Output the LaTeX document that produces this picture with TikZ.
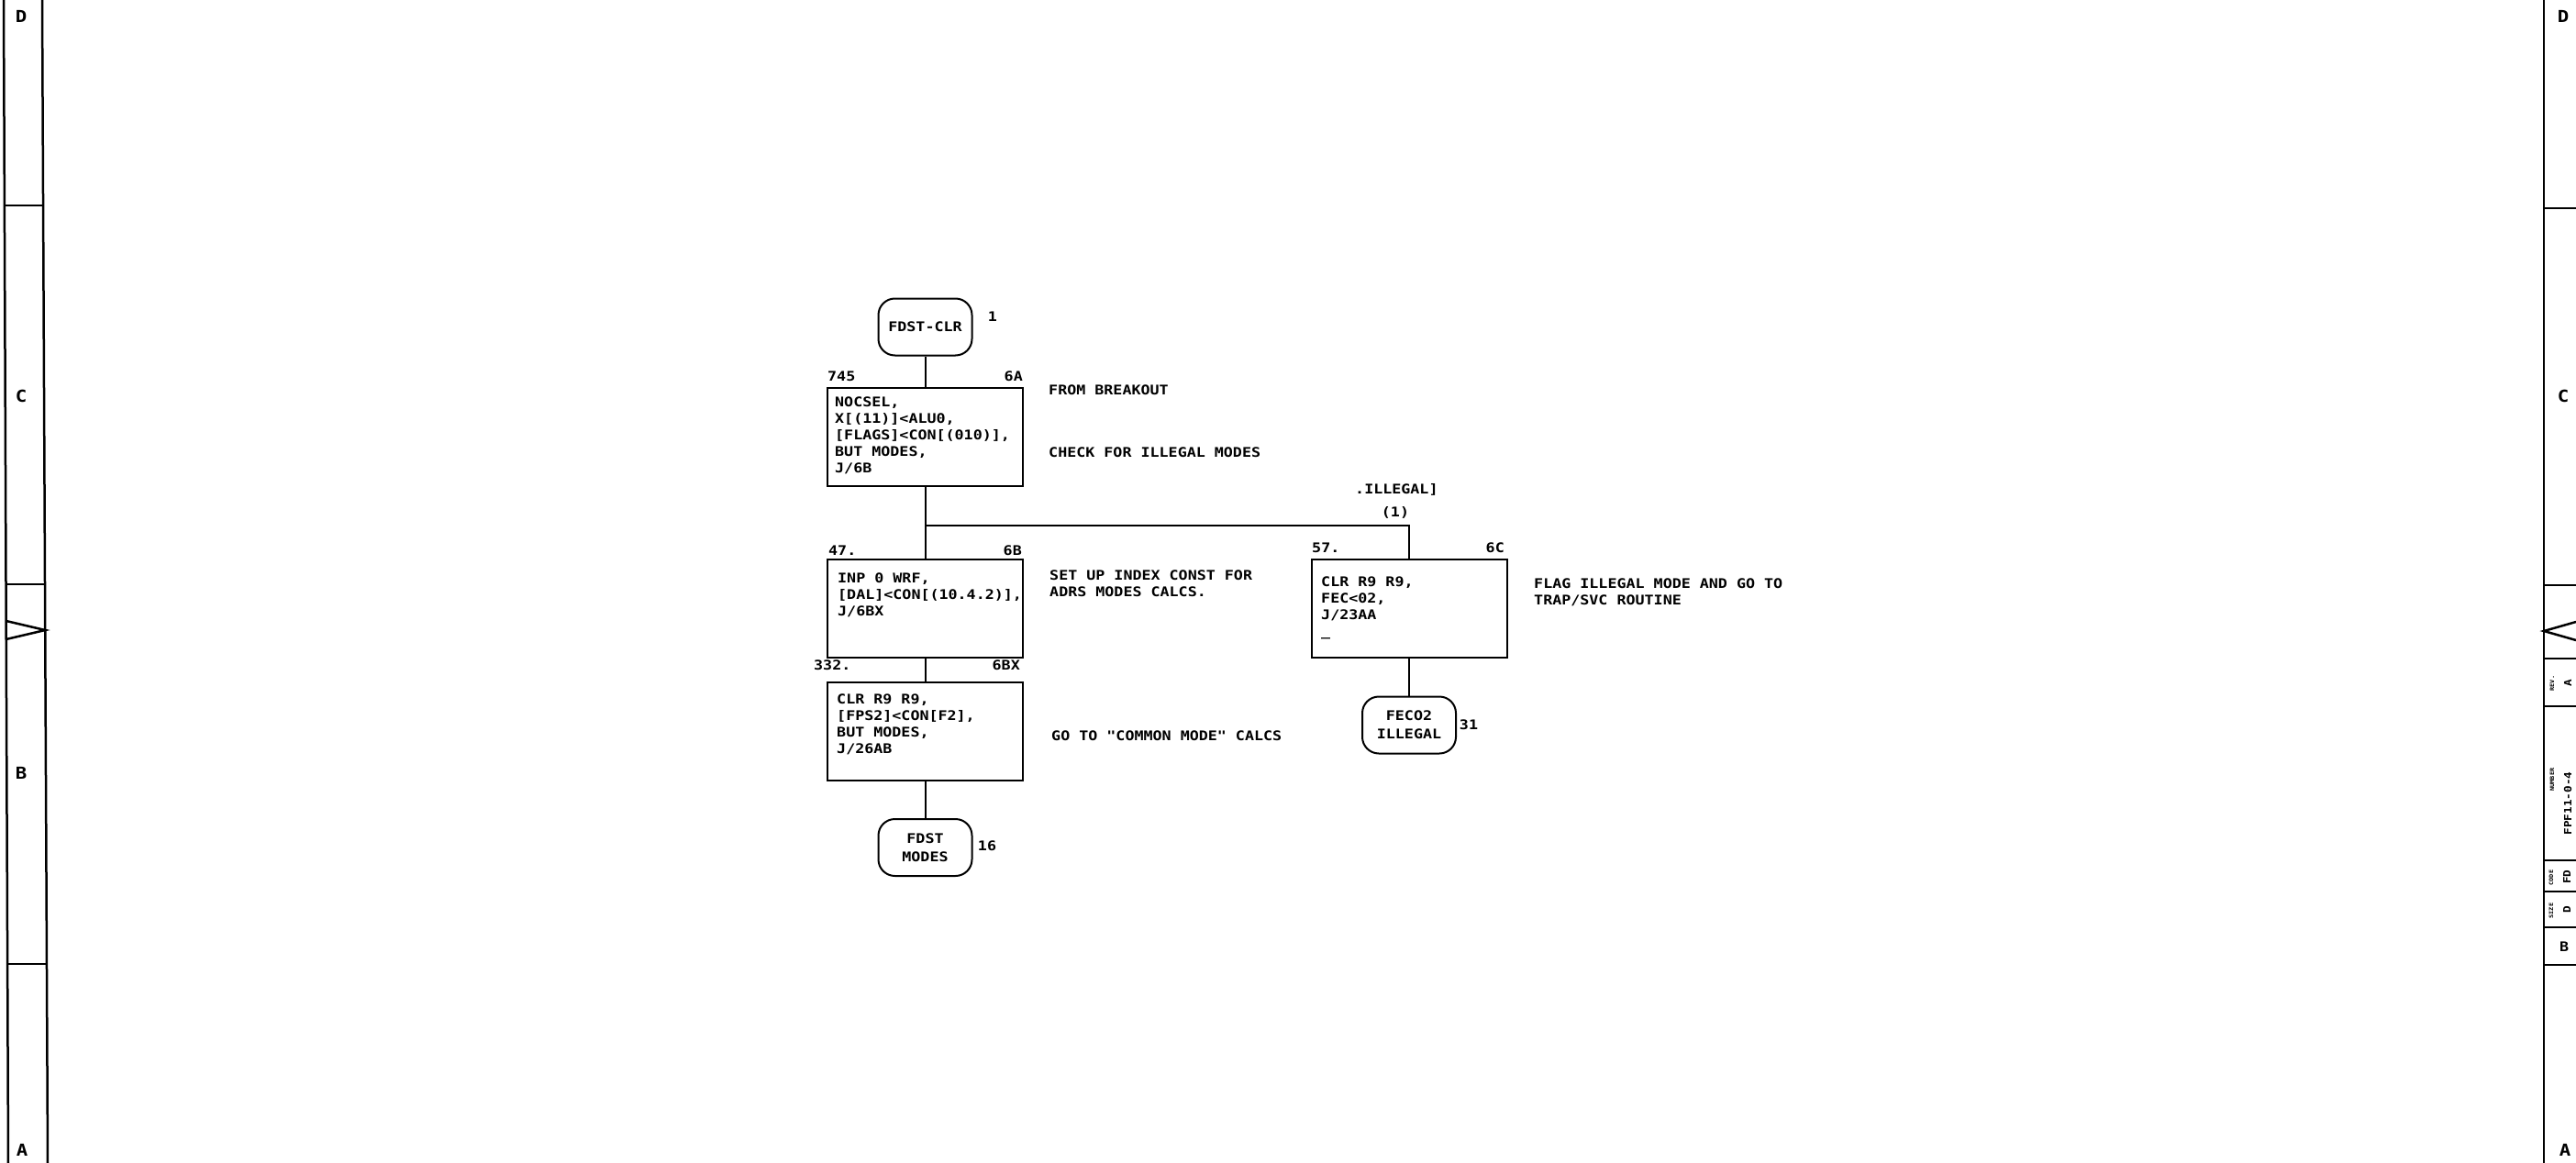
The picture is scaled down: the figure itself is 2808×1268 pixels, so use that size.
\documentclass[tikz,border=0pt]{standalone}
\usepackage{fontspec}
\newfontfamily\plotfont[FakeStretch=1.15]{DejaVu Sans Mono}
\newcommand{\plotsize}[1]{\fontsize{#1}{18}\selectfont}
\begin{document}
\begin{tikzpicture}[
        x=1pt, y=-1pt,
        every node/.style={inner sep=0pt, font=\plotfont\bfseries\plotsize{14.5}},
        stepbox/.style={draw, line width=2pt, minimum width=213pt, minimum height=107pt},
        terminal/.style={draw, line width=2pt, rounded corners=18pt, minimum width=102pt, minimum height=62pt, align=center},
        code/.style={anchor=north west, align=left},
        note/.style={anchor=north west, align=left},
        flow/.style={draw, line width=2pt},
        frame/.style={draw, line width=2.5pt},
        rim/.style={font=\plotfont\bfseries\plotsize{18}},
        cell/.style={font=\plotfont\bfseries\plotsize{6}, rotate=90},
        value/.style={font=\plotfont\bfseries\plotsize{11}, rotate=90},
    ]
    \useasboundingbox (0,0) rectangle (2808,1268);
    \draw[frame] (4,0) -- (9,1268);
    \draw[frame] (46,0) -- (52,1268);
    \draw[frame] (4.9,224) -- (47.1,224);
    \draw[frame] (6.5,637) -- (49,637);
    \draw[frame] (8.1,1051) -- (51,1051);
    \draw[frame] (6.7,677) -- (49.3,687) -- (6.7,697);
    \node[rim](ld) at (23,18){D};
    \node[rim](lc) at (23,432){C};
    \node[rim](lb) at (23,843){B};
    \node[rim](la) at (24,1254){A};
    \draw[frame] (2773,0) -- (2773,1268);
    \draw[frame] (2773,227) -- (2808,227);
    \draw[frame] (2773,638) -- (2808,638);
    \draw[frame] (2808,678) -- (2773,688) -- (2808,698);
    \draw[frame] (2773,718) -- (2808,718);
    \draw[frame] (2773,770) -- (2808,770);
    \draw[frame] (2773,938) -- (2808,938);
    \draw[frame] (2773,972) -- (2808,972);
    \draw[frame] (2773,1011) -- (2808,1011);
    \draw[frame] (2773,1052) -- (2808,1052);
    \node[rim](rd) at (2794,18){D};
    \node[rim](rc) at (2794,432){C};
    \node[rim](ra) at (2796,1254){A};
    \node[cell](rev) at (2782,745){REV.};
    \node[value](revval) at (2799,745){A};
    \node[cell](num) at (2782,850){NUMBER};
    \node[value](numval) at (2799,876){FPF11-0-4};
    \node[cell](code) at (2781,957){CODE};
    \node[value](codeval) at (2798,956){FD};
    \node[cell](size) at (2781,993){SIZE};
    \node[value](sizeval) at (2798,992){D};
    \node[](sheet) at (2795,1032){B};
    \node[terminal](tclr) at (1008.5,356.5){FDST-CLR};
    \node[](m1) at (1082,345){1};
    \node[stepbox](b745) at (1008.5,476.5){};
    \node[anchor=west](a745) at (902,410){745};
    \node[anchor=east](p745) at (1115,410){6A};
    \node[code](c745) at (910,433){NOCSEL,\\X[(11)]<ALU0,\\{[}FLAGS]<CON[(010)],\\BUT MODES,\\J/6B};
    \node[note](nfrom) at (1143,420){FROM BREAKOUT};
    \node[note](ncheck) at (1143,488){CHECK FOR ILLEGAL MODES};
    \coordinate (split) at (1008.5,573);
    \node[note](nillegal) at (1477,527){.ILLEGAL]};
    \node[](none) at (1521,559){(1)};
    \node[stepbox](b47) at (1008.5,663.5){};
    \node[anchor=west](a47) at (903,600){47.};
    \node[anchor=east](p47) at (1114,600){6B};
    \node[code](c47) at (913,624.7){INP 0 WRF,\\{[}DAL]<CON[(10.4.2)],\\J/6BX};
    \node[note](nset) at (1144,622){SET UP INDEX CONST FOR\\ADRS MODES CALCS.};
    \node[stepbox](b332) at (1008.5,797.5){};
    \node[anchor=west](a332) at (887,725){332.};
    \node[anchor=east](p332) at (1112,725){6BX};
    \node[code](c332) at (912,756.4){CLR R9 R9,\\{[}FPS2]<CON[F2],\\BUT MODES,\\J/26AB};
    \node[note](ngo) at (1146,797){GO TO "COMMON MODE" CALCS};
    \node[terminal](tmodes) at (1008.5,924){FDST\\[2pt]MODES};
    \node[](m16) at (1076,922){16};
    \node[stepbox](b57) at (1536,663){};
    \node[anchor=west](a57) at (1430,597){57.};
    \node[anchor=east](p57) at (1640,597){6C};
    \node[code](c57) at (1440,629){CLR R9 R9,\\FEC<02,\\J/23AA\\\_};
    \node[note](nflag) at (1672,631){FLAG ILLEGAL MODE AND GO TO\\TRAP/SVC ROUTINE};
    \node[terminal](tillegal) at (1536,790.5){FECO2\\[2pt]ILLEGAL};
    \node[](m31) at (1601,790){31};
    \draw[flow] (tclr) -- (b745);
    \draw[flow] (b745) -- (b47);
    \draw[flow] (split) -| (b57.north);
    \draw[flow] (b47) -- (b332);
    \draw[flow] (b332) -- (tmodes);
    \draw[flow] (b57) -- (tillegal);
\end{tikzpicture}
\end{document}
